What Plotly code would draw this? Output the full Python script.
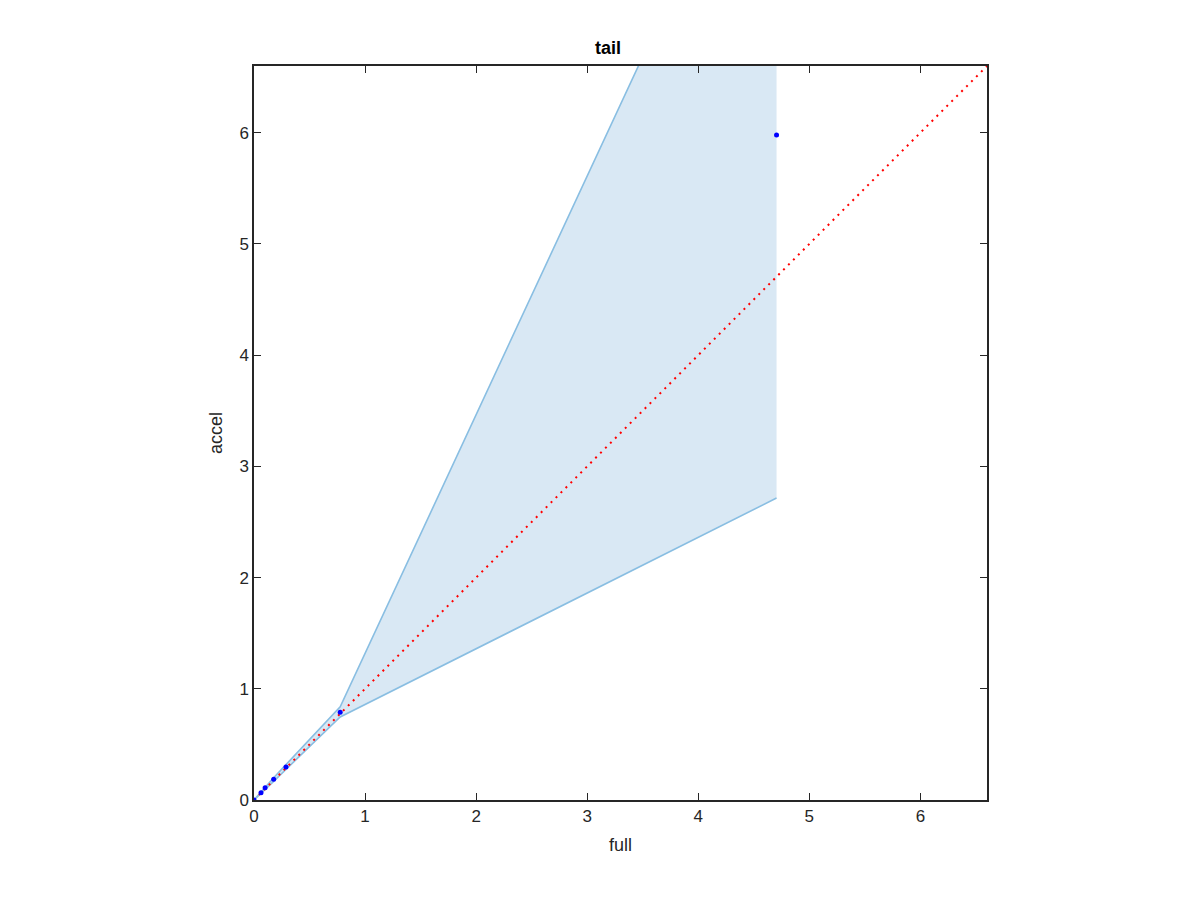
import plotly.graph_objects as go

full = [0.0, 0.063, 0.10, 0.177, 0.288, 0.776, 4.705]
accel = [0.0, 0.065, 0.11, 0.186, 0.296, 0.79, 5.98]
upper = [0.0, 0.072, 0.12, 0.200, 0.318, 0.837, 9.27]
lower = [0.0, 0.058, 0.10, 0.168, 0.275, 0.747, 2.715]
diag = [0.0, 6.6]
ticks = [0, 1, 2, 3, 4, 5, 6]

fill_col = "rgb(217,232,244)"
edge_col = "rgb(137,190,226)"

fig = go.Figure()
fig.add_trace(go.Scatter(
    x=full + full[::-1], y=lower + upper[::-1],
    fill="toself", fillcolor=fill_col, mode="none", hoverinfo="skip"))
fig.add_trace(go.Scatter(x=full, y=upper, mode="lines",
                         line=dict(color=edge_col, width=1.6)))
fig.add_trace(go.Scatter(x=full, y=lower, mode="lines",
                         line=dict(color=edge_col, width=1.6)))
fig.add_trace(go.Scatter(x=diag, y=diag, mode="lines",
                         line=dict(color="red", width=2, dash="2px,5px")))
fig.add_trace(go.Scatter(x=full, y=accel, mode="markers",
                         marker=dict(color="blue", size=5)))

axis_common = dict(
    range=[0, 6.6], tickvals=ticks, ticks="inside", ticklen=7, tickwidth=1,
    tickcolor="#262626", showline=True, linecolor="#262626", linewidth=1.5,
    mirror="ticks", showgrid=False, zeroline=False,
    tickfont=dict(family="Liberation Sans, Arial", size=17, color="#262626"),
)

fig.update_layout(
    width=1200, height=900, showlegend=False,
    plot_bgcolor="white", paper_bgcolor="white",
    margin=dict(l=246, r=221, t=58, b=108),
    title=dict(text="<b>tail</b>", x=0.5, xanchor="center", y=1 - 40 / 900,
               yanchor="middle",
               font=dict(family="Liberation Sans, Arial", size=18, color="black")),
    xaxis=dict(axis_common, title=dict(text="full", standoff=13,
               font=dict(family="Liberation Sans, Arial", size=18, color="#262626"))),
    yaxis=dict(axis_common, title=dict(text="accel", standoff=12,
               font=dict(family="Liberation Sans, Arial", size=18, color="#262626"))),
)

fig.write_html("out.html")
